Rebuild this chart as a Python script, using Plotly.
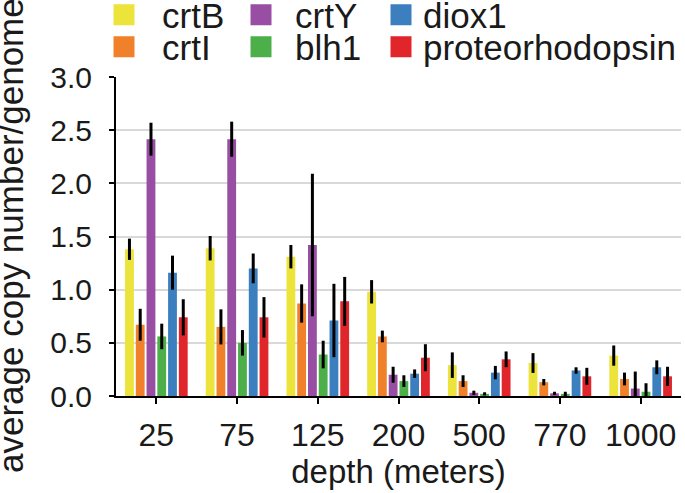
import plotly.graph_objects as go

depths = ["25", "75", "125", "200", "500", "770", "1000"]
genes = ["crtB", "crtI", "crtY", "blh1", "diox1", "proteorhodopsin"]

crtB = [1.38, 1.39, 1.31, 0.98, 0.29, 0.31, 0.38]
crtB_err = [0.10, 0.115, 0.11, 0.11, 0.12, 0.093, 0.095]
crtI = [0.67, 0.65, 0.87, 0.56, 0.14, 0.13, 0.16]
crtI_err = [0.15, 0.165, 0.18, 0.055, 0.055, 0.03, 0.06]
crtY = [2.415, 2.415, 1.42, 0.20, 0.03, 0.025, 0.07]
crtY_err = [0.155, 0.165, 0.67, 0.075, 0.02, 0.015, 0.16]
blh1 = [0.56, 0.50, 0.39, 0.14, 0.02, 0.02, 0.04]
blh1_err = [0.12, 0.12, 0.13, 0.055, 0.015, 0.02, 0.08]
diox1 = [1.16, 1.20, 0.71, 0.21, 0.22, 0.24, 0.27]
diox1_err = [0.16, 0.14, 0.345, 0.04, 0.063, 0.03, 0.065]
proteo = [0.74, 0.74, 0.89, 0.36, 0.345, 0.185, 0.185]
proteo_err = [0.17, 0.19, 0.23, 0.127, 0.074, 0.08, 0.09]

values = [crtB, crtI, crtY, blh1, diox1, proteo]
errors = [crtB_err, crtI_err, crtY_err, blh1_err, diox1_err, proteo_err]
colors = ["#ECE43A", "#F0812A", "#984EA3", "#4DAF4A", "#3B7FBF", "#E0252B"]

W, H = 685, 493
L, R, T, B = 116, 4, 77, 97
PW, PH = W - L - R, H - T - B
FONT = "Liberation Sans, Arial, sans-serif"

fig = go.Figure()
for g, v, e, c in zip(genes, values, errors, colors):
    fig.add_trace(go.Bar(
        x=depths, y=v, name=g, marker=dict(color=c, line=dict(width=0)),
        error_y=dict(type="data", array=e, visible=True, color="black",
                     thickness=3, width=0),
        showlegend=False, hoverinfo="skip",
    ))

# legend entries (one legend per entry for exact placement)
leg_pos = {  # square centre px x, px y, item width
    "crtB": (124, 15, 66), "crtI": (124, 47, 66),
    "crtY": (261, 15, 58), "blh1": (261, 47, 58),
    "diox1": (401, 15, 34), "proteorhodopsin": (401, 47, 34),
}
layout_legends = {}
for i, (g, c) in enumerate(zip(genes, colors)):
    lname = "legend" if i == 0 else f"legend{i + 1}"
    fig.add_trace(go.Scatter(
        x=[None], y=[None], mode="markers", name=g, legend=lname,
        marker=dict(symbol="square", size=16, color=c, line=dict(width=5, color=c)),
        showlegend=True,
    ))
    cx, cy, w = leg_pos[g]
    layout_legends[lname] = dict(
        x=(cx - (w / 2 + 5) - L) / PW, y=(H - B - cy) / PH,
        xanchor="left", yanchor="middle",
        bgcolor="rgba(0,0,0,0)", borderwidth=0,
        font=dict(family=FONT, size=35, color="#1a1a1a"),
        itemwidth=w, tracegroupgap=0,
    )

fig.update_layout(
    width=W, height=H,
    margin=dict(l=L, r=R, t=T, b=B, pad=0, autoexpand=False),
    paper_bgcolor="white", plot_bgcolor="white",
    barmode="group", bargap=0.2, bargroupgap=0.18,
    font=dict(family=FONT, size=32, color="#1a1a1a"),
    xaxis=dict(
        type="category", showline=True, linecolor="black", linewidth=2,
        ticks="outside", ticklen=6, tickwidth=2, tickcolor="black",
        showgrid=False, tickfont=dict(size=32), automargin=False,
        ticklabelposition="outside", ticklabelstandoff=4,
        title=dict(text="depth (meters)", font=dict(size=33), standoff=0),
    ),
    yaxis=dict(
        range=[0, 3.0], tickvals=[0, 0.5, 1.0, 1.5, 2.0, 2.5, 3.0],
        ticktext=["0.0", "0.5", "1.0", "1.5", "2.0", "2.5", "3.0"],
        showline=True, linecolor="black", linewidth=2,
        ticks="outside", ticklen=5, tickwidth=2, tickcolor="black",
        showgrid=True, gridcolor="#d9d9d9", gridwidth=2, zeroline=False,
        tickfont=dict(size=30), automargin=False,
        ticklabelposition="outside", ticklabelstandoff=11,
    ),
    annotations=[dict(
        text="average copy number/genome", textangle=-90,
        xref="paper", yref="paper",
        x=(10 - L) / PW, y=(H - B - 236) / PH,
        xanchor="center", yanchor="middle", showarrow=False,
        font=dict(family=FONT, size=35, color="#1a1a1a"),
    )],
    **layout_legends,
)

fig.write_html("out.html", config={"displayModeBar": False},
               post_script="document.body.style.margin='0';")
